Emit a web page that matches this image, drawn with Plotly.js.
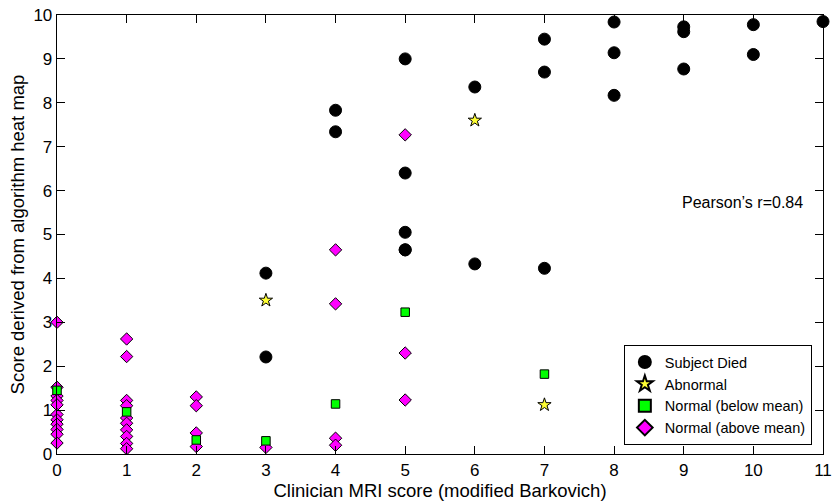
<!DOCTYPE html>
<html>
<head>
<meta charset="utf-8">
<script src="https://cdn.plot.ly/plotly-3.0.1.min.js"></script>
<style>html,body{margin:0;padding:0;background:#fff;}#chart{width:834px;height:502px;}</style>
</head>
<body>
<div id="chart"></div>
<script>
// Subject Died (black circles)
const diedX = [3, 3, 4, 4, 5, 5, 5, 5, 5, 6, 6, 7, 7, 7, 8, 8, 8, 9, 9, 9, 10, 10, 11];
const diedY = [4.12, 2.21, 7.83, 7.34, 9.0, 6.4, 5.05, 4.65, 4.65, 8.36, 4.33, 9.45, 8.7, 4.23, 9.84, 9.14, 8.17, 9.73, 9.62, 8.77, 9.78, 9.1, 9.85];
// Abnormal (yellow stars)
const abnX = [3, 6, 7];
const abnY = [3.5, 7.6, 1.12];
// Normal (below mean) (green squares)
const belowX = [0, 1, 2, 3, 4, 5, 7];
const belowY = [1.45, 0.96, 0.32, 0.3, 1.14, 3.23, 1.82];
// Normal (above mean) (magenta diamonds)
const aboveX = [0, 0, 0, 0, 0, 0, 0, 0, 0, 0, 0,
                1, 1, 1, 1, 1, 1, 1, 1, 1, 1,
                2, 2, 2, 2,
                3,
                4, 4, 4, 4,
                5, 5, 5];
const aboveY = [3.0, 1.52, 1.32, 1.22, 1.12, 0.9, 0.78, 0.68, 0.56, 0.45, 0.25,
                2.62, 2.22, 1.22, 1.1, 0.82, 0.7, 0.55, 0.4, 0.24, 0.12,
                1.3, 1.1, 0.48, 0.17,
                0.15,
                4.65, 3.42, 0.36, 0.2,
                7.27, 2.3, 1.23];
const xTicks = [0, 1, 2, 3, 4, 5, 6, 7, 8, 9, 10, 11];
const yTicks = [0, 1, 2, 3, 4, 5, 6, 7, 8, 9, 10];
const annotationText = "Pearson’s r=0.84";

const FONT = 'Liberation Sans, Arial, Helvetica, sans-serif';

const traces = [
  {x: diedX, y: diedY, type: 'scatter', mode: 'markers', name: 'Subject Died', cliponaxis: false,
   marker: {symbol: 'circle', size: 12, color: '#000000', line: {color: '#000000', width: 1}}},
  {x: abnX, y: abnY, type: 'scatter', mode: 'markers', name: 'Abnormal', cliponaxis: false,
   marker: {symbol: 'star', size: 10, color: '#ffff33', line: {color: '#000000', width: 1}}},
  {x: belowX, y: belowY, type: 'scatter', mode: 'markers', name: 'Normal (below mean)', cliponaxis: false,
   marker: {symbol: 'square', size: 8.5, color: '#00ff00', line: {color: '#000000', width: 1}}},
  {x: aboveX, y: aboveY, type: 'scatter', mode: 'markers', name: 'Normal (above mean)', cliponaxis: false,
   marker: {symbol: 'diamond', size: 9.5, color: '#ff00ff', line: {color: '#000000', width: 1}}}
];
const ordered = [traces[3], traces[2], traces[1], traces[0]];

const axisCommon = {
  showgrid: false, zeroline: false, showline: true, linecolor: '#000', linewidth: 1.3,
  mirror: 'allticks', ticks: 'inside', ticklen: 8, tickwidth: 1, tickcolor: '#000',
  ticklabeloverflow: 'allow',
  tickfont: {family: FONT, size: 17, color: '#000'}
};

const layout = {
  width: 834, height: 502,
  margin: {l: 57, r: 11, t: 15, b: 48},
  paper_bgcolor: '#fff', plot_bgcolor: '#fff',
  font: {family: FONT, color: '#000'},
  xaxis: Object.assign({}, axisCommon, {
    range: [0, 11], tickvals: xTicks, ticktext: xTicks.map(String),
    title: {text: 'Clinician MRI score (modified Barkovich)', font: {size: 18.5}, standoff: 2}
  }),
  yaxis: Object.assign({}, axisCommon, {
    range: [0, 10], tickvals: yTicks, ticktext: yTicks.map(String),
    title: {text: 'Score derived from algorithm heat map', font: {size: 18.5}, standoff: 4}
  }),
  legend: {
    traceorder: 'reversed',
    x: 0.74, y: 0.248, xanchor: 'left', yanchor: 'top',
    bgcolor: '#fff', bordercolor: '#000', borderwidth: 1,
    font: {size: 14.5, family: FONT, color: '#000'},
    itemsizing: 'constant', tracegroupgap: 0
  },
  annotations: [{
    x: 9.85, y: 5.74, xref: 'x', yref: 'y', text: annotationText, showarrow: false,
    font: {size: 16, family: FONT, color: '#000'}
  }],
  showlegend: true
};

Plotly.newPlot('chart', ordered, layout, {displayModeBar: false, staticPlot: true});
</script>
</body>
</html>
